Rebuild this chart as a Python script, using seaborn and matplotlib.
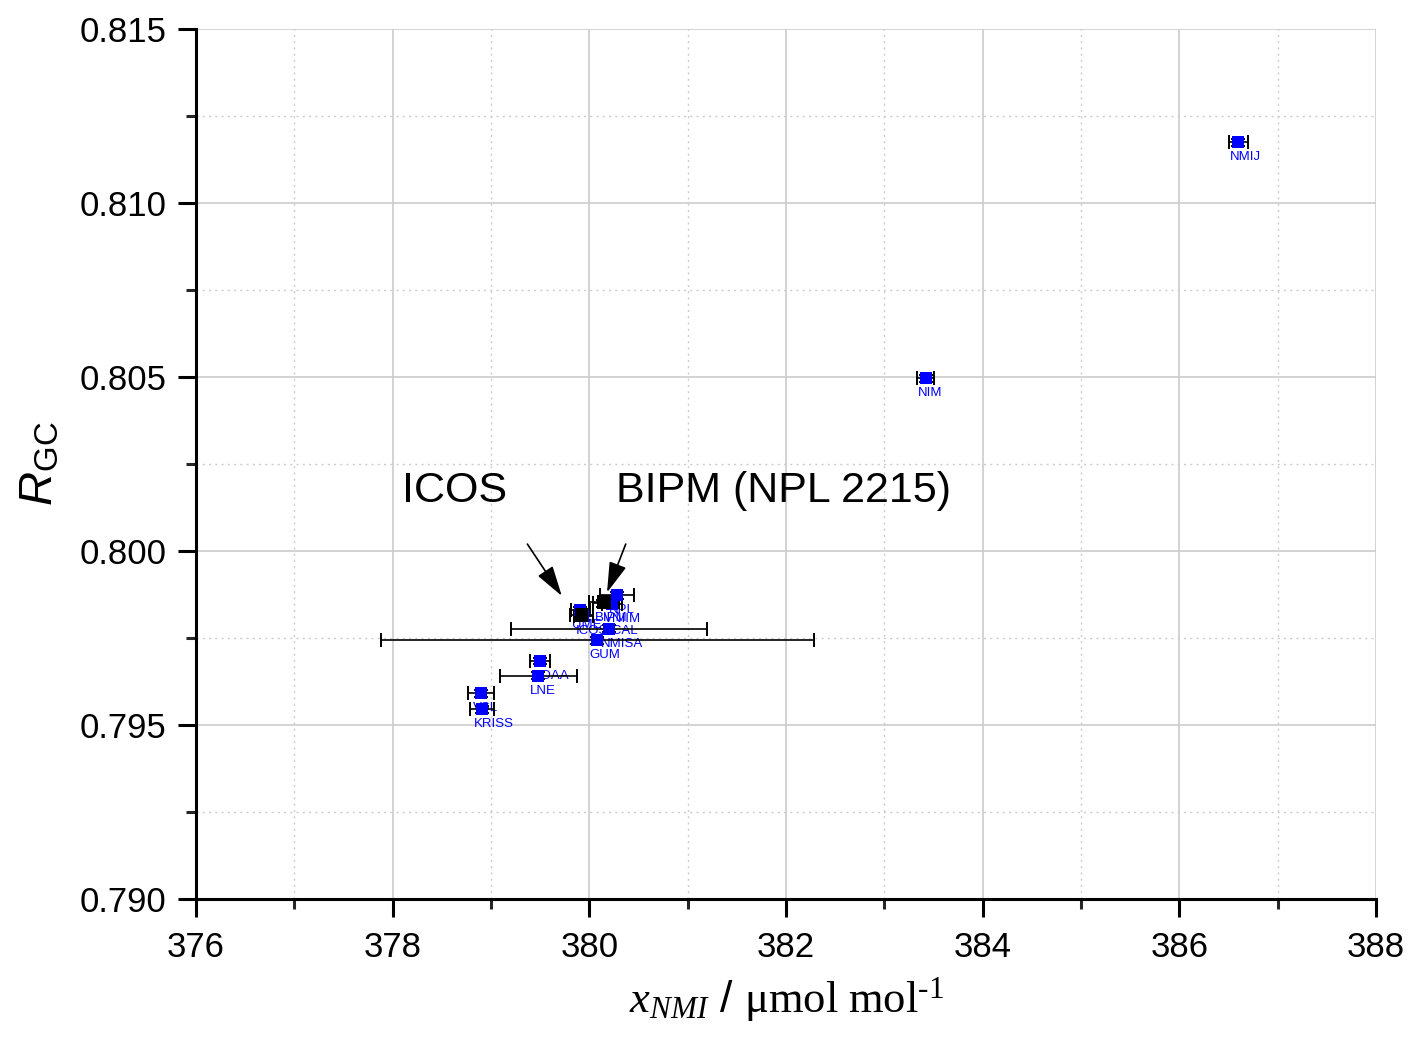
import numpy as np
import pandas as pd
import matplotlib
matplotlib.use("Agg")
import matplotlib.pyplot as plt
import seaborn as sns
from matplotlib.ticker import MultipleLocator, FormatStrFormatter

# ---- data ----
labels = ["NMIJ", "NIM", "VSL", "KRISS", "NOAA", "LNE", "UME", "ICOS-CAL",
          "NPL", "BIPM", "VNIIM", "NMISA", "GUM"]
x_nmi = [386.60, 383.42, 378.90, 378.91, 379.50, 379.48, 379.91, 379.94,
         380.28, 380.14, 380.23, 380.20, 380.08]
r_gc = [0.81175, 0.80497, 0.79592, 0.79546, 0.79684, 0.79641, 0.79830, 0.79813,
        0.79873, 0.79850, 0.79847, 0.79777, 0.79744]
x_err = [0.10, 0.09, 0.13, 0.12, 0.10, 0.39, 0.10, 0.10,
         0.17, 0.10, 0.10, 1.00, 2.20]
y_err = [0.00010] * len(labels)

ref_labels = ["ICOS", "BIPM (NPL 2215)"]
ref_x = [379.92, 380.15]
ref_y = [0.79816, 0.79853]
ref_xerr = [0.12, 0.15]
ref_yerr = [0.00010, 0.00010]

x_ticks = [376, 378, 380, 382, 384, 386, 388]
y_ticks = [0.790, 0.795, 0.800, 0.805, 0.810, 0.815]

df = pd.DataFrame({"x": x_nmi, "y": r_gc, "lab": labels})
dref = pd.DataFrame({"x": ref_x, "y": ref_y, "lab": ref_labels})

# ---- style ----
sns.set_style("white")
plt.rcParams["font.family"] = ["Liberation Sans", "DejaVu Sans"]
plt.rcParams["text.color"] = "black"
plt.rcParams["axes.labelcolor"] = "black"
plt.rcParams["mathtext.fontset"] = "custom"
plt.rcParams["mathtext.rm"] = "Liberation Serif"
plt.rcParams["mathtext.it"] = "Liberation Serif:italic"
plt.rcParams["mathtext.sf"] = "Liberation Sans:italic"
plt.rcParams["mathtext.bf"] = "Liberation Sans"

fig = plt.figure(figsize=(14.1, 10.52), dpi=100)
ax = fig.add_axes([0.139, 0.1454, 0.8369, 0.8270])

ax.set_xlim(376, 388)
ax.set_ylim(0.790, 0.815)
ax.set_xticks(x_ticks)
ax.set_yticks(y_ticks)
ax.xaxis.set_minor_locator(MultipleLocator(1))
ax.yaxis.set_minor_locator(MultipleLocator(0.0025))
ax.yaxis.set_major_formatter(FormatStrFormatter("%.3f"))
ax.xaxis.set_major_formatter(FormatStrFormatter("%d"))

ax.grid(True, which="major", color="#cccccc", lw=1.2, ls="-", zorder=0)
ax.grid(True, which="minor", color="#cccccc", lw=1.0, ls=(0, (1.5, 3)), zorder=0)
ax.set_axisbelow(True)

for s in ["top", "right"]:
    ax.spines[s].set_visible(False)
for s in ["left", "bottom"]:
    ax.spines[s].set_color("black")
    ax.spines[s].set_linewidth(2.2)

ax.tick_params(which="major", direction="out", length=13, width=2.2,
               labelsize=25, colors="black", labelcolor="black", pad=8,
               bottom=True, left=True)
ax.tick_params(which="minor", direction="out", length=7, width=2.2,
               bottom=True, left=True)
ax.tick_params(axis="x", which="major", pad=10)

# point labels (drawn below markers)
for xv, yv, lab in zip(x_nmi, r_gc, labels):
    ax.annotate(lab, (xv, yv), xytext=(-8, -9), textcoords="offset pixels",
                ha="left", va="top", fontsize=9.5, color="#0000ff", zorder=2)

# error bars
ax.errorbar(x_nmi, r_gc, xerr=x_err, yerr=y_err, fmt="none", ecolor="black",
            elinewidth=1.2, capsize=5, capthick=1.4, zorder=3)
ax.errorbar(ref_x, ref_y, xerr=ref_xerr, yerr=ref_yerr, fmt="none", ecolor="black",
            elinewidth=1.2, capsize=5, capthick=1.4, zorder=3)

sns.scatterplot(data=df, x="x", y="y", ax=ax, marker="s", s=75, color="#0000ff",
                edgecolor="none", zorder=4, legend=False)
sns.scatterplot(data=dref, x="x", y="y", ax=ax, marker="s", s=95, color="black",
                edgecolor="none", zorder=5, legend=False)

# callouts
ax.text(378.1, 0.80141, ref_labels[0], fontsize=31, ha="left", va="baseline",
        color="black", zorder=6)
ax.text(380.27, 0.80141, ref_labels[1], fontsize=31, ha="left", va="baseline",
        color="black", zorder=6)
arrow_kw = dict(arrowstyle="-|>,head_length=0.75,head_width=0.22", color="black",
                lw=1.2, mutation_scale=25, shrinkA=0, shrinkB=0)
ax.annotate("", xy=(ref_x[0] - 0.2, ref_y[0] + 0.00055),
            xytext=(379.37, 0.80020), arrowprops=arrow_kw, zorder=6)
ax.annotate("", xy=(ref_x[1] + 0.03, ref_y[1] + 0.00028),
            xytext=(380.37, 0.80020), arrowprops=arrow_kw, zorder=6)

ax.set_xlabel(r"$x_{NMI}$ / $\mathrm{\mu mol\ mol}^{\text{-1}}$", fontsize=32,
              labelpad=8, color="black")
ax.set_ylabel(r"$\mathsf{R}_{\mathbf{GC}}$", fontsize=34, labelpad=12, color="black")

fig.savefig("out.png", dpi=100)
